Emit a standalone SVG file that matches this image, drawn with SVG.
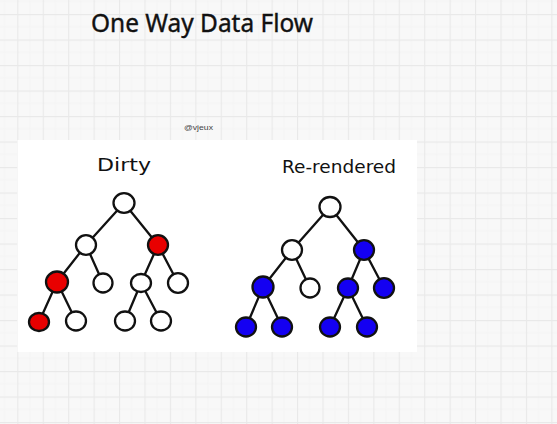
<svg xmlns="http://www.w3.org/2000/svg" width="557" height="424" viewBox="0 0 557 424">
<defs>
<pattern id="grid" x="17.3" y="14" width="25.43" height="25.5" patternUnits="userSpaceOnUse">
<path d="M12.7 0V25.5M0 12.75H25.43" stroke="#f4f4f4" stroke-width="1" fill="none"/>
<path d="M0.5 0V25.5M0 0.5H25.43" stroke="#e9e9e9" stroke-width="1.3" fill="none"/>
</pattern>
<style>
.edge{stroke:#111;stroke-width:2.3;stroke-linecap:round;fill:none}
.node{stroke:#111;stroke-width:2.3}
.w{fill:#fff}
.r{fill:#e80000}
.b{fill:#1400f2}
.hand{font-family:"DejaVu Sans",sans-serif;font-size:17px;fill:#111}
</style>
</defs>
<rect width="557" height="424" fill="#f8f8f8"/>
<rect width="557" height="424" fill="url(#grid)"/>
<text x="91" y="32" font-family="'Noto Sans',sans-serif" font-size="26" fill="#111" stroke="#111" stroke-width="0.4" textLength="222" lengthAdjust="spacingAndGlyphs">One Way Data Flow</text>
<text x="184" y="130" font-family="'Liberation Sans',sans-serif" font-size="7.5" fill="#444" textLength="29" lengthAdjust="spacingAndGlyphs">@vjeux</text>
<rect x="17.5" y="140" width="399.5" height="212" fill="#fff"/>
<text class="hand" x="97" y="171" textLength="54" lengthAdjust="spacingAndGlyphs">Dirty</text>
<text class="hand" x="282" y="173" textLength="114" lengthAdjust="spacingAndGlyphs">Re-rendered</text>
<g id="connectors">
<path class="edge" d="M124 203L86 245M124 203L158 245M86 245L57 282M86 245L103 283M158 245L141 283M158 245L178 283M57 282L39 322M57 282L76 321M141 283L125 321M141 283L161 321"/>
<path class="edge" d="M330 207L292 250M330 207L364 250M292 250L263 287M292 250L310 288M364 250L348 288M364 250L384 288M263 287L246 327M263 287L282 327M348 288L330 327M348 288L367 327"/>
</g>
<g id="dirty-root"><ellipse class="node w" cx="124" cy="203" rx="10.5" ry="9.8"/></g>
<g id="dirty-l1a"><ellipse class="node w" cx="86" cy="245" rx="10" ry="9.8"/></g>
<g id="dirty-l1b"><ellipse class="node r" cx="158" cy="245" rx="10" ry="9.8"/></g>
<g id="dirty-l2a"><ellipse class="node r" cx="57" cy="282" rx="11" ry="10.5"/></g>
<g id="dirty-l2b"><ellipse class="node w" cx="103" cy="283" rx="9.5" ry="9.5"/></g>
<g id="dirty-l2c"><ellipse class="node w" cx="141" cy="283" rx="10" ry="9"/></g>
<g id="dirty-l2d"><ellipse class="node w" cx="178" cy="283" rx="10" ry="9.8"/></g>
<g id="dirty-l3a"><ellipse class="node r" cx="39" cy="322" rx="10" ry="9"/></g>
<g id="dirty-l3b"><ellipse class="node w" cx="76" cy="321" rx="10" ry="9.5"/></g>
<g id="dirty-l3c"><ellipse class="node w" cx="125" cy="321" rx="10" ry="9.5"/></g>
<g id="dirty-l3d"><ellipse class="node w" cx="161" cy="321" rx="10" ry="9.5"/></g>
<g id="rr-root"><ellipse class="node w" cx="330" cy="207" rx="10.5" ry="10"/></g>
<g id="rr-l1a"><ellipse class="node w" cx="292" cy="250" rx="10" ry="9.8"/></g>
<g id="rr-l1b"><ellipse class="node b" cx="364" cy="250" rx="10" ry="9.8"/></g>
<g id="rr-l2a"><ellipse class="node b" cx="263" cy="287" rx="10.5" ry="10.5"/></g>
<g id="rr-l2b"><ellipse class="node w" cx="310" cy="288" rx="9.5" ry="9.5"/></g>
<g id="rr-l2c"><ellipse class="node b" cx="348" cy="288" rx="10" ry="9.5"/></g>
<g id="rr-l2d"><ellipse class="node b" cx="384" cy="288" rx="10" ry="9.8"/></g>
<g id="rr-l3a"><ellipse class="node b" cx="246" cy="327" rx="10" ry="9.5"/></g>
<g id="rr-l3b"><ellipse class="node b" cx="282" cy="327" rx="10" ry="9.5"/></g>
<g id="rr-l3c"><ellipse class="node b" cx="330" cy="327" rx="10" ry="9.5"/></g>
<g id="rr-l3d"><ellipse class="node b" cx="367" cy="327" rx="10" ry="9.5"/></g>
</svg>
